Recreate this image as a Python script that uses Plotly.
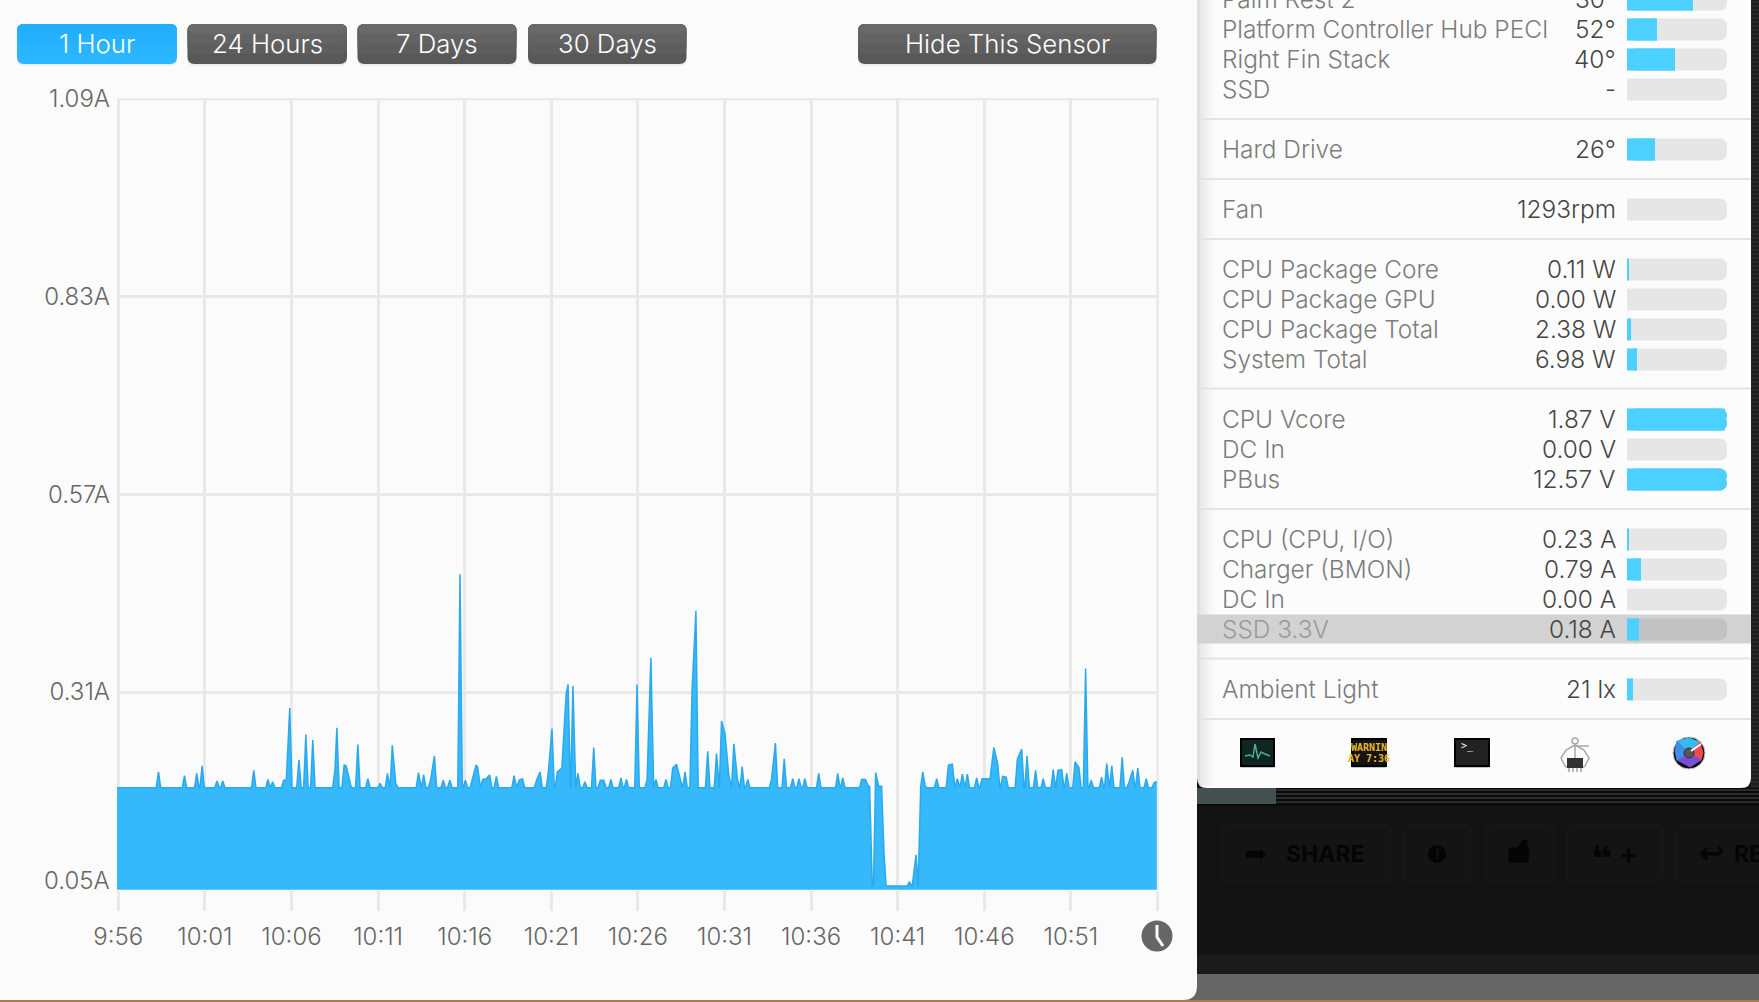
import plotly.graph_objects as go

W, H = 1759, 1002
FONT = "Inter"

# Current readings, in amps. Minutes count from 9:56.
BASE_AMPS = 0.184
pre_minutes = [2.32, 3.82, 4.53, 4.84, 5.70, 6.03, 7.82, 8.64, 8.91, 9.55, 9.70, 9.90, 10.43, 10.83, 11.23,
               12.51, 12.62, 13.04, 13.15, 13.33, 13.83, 14.41, 15.12, 15.54, 15.82, 16.02, 17.33, 17.63,
               18.03, 18.25, 18.76, 19.14, 19.73, 20.04, 20.44, 20.66, 20.75, 21.04, 21.24, 21.44, 21.83,
               22.85, 23.14, 23.34, 24.15, 24.35, 24.84, 25.04, 25.35, 25.61, 25.86, 25.97, 26.25, 26.54,
               26.94, 27.45, 27.83, 28.03, 28.44, 29.02, 29.34, 29.95, 30.53, 30.75, 31.04, 31.62, 32.01,
               32.23, 32.45, 32.72, 33.13, 33.35, 34.03, 34.54, 34.83, 35.03, 35.24, 35.54, 35.75, 36.02,
               36.34, 37.72, 37.94, 38.45, 38.94, 39.30, 39.64, 40.44, 41.54, 41.83, 42.92, 43.14]
pre_amps = [0.205, 0.200, 0.203, 0.213, 0.193, 0.193, 0.207, 0.195, 0.192, 0.194, 0.194, 0.289, 0.221, 0.254, 0.247,
            0.208, 0.263, 0.214, 0.213, 0.194, 0.241, 0.196, 0.190, 0.203, 0.240, 0.190, 0.204, 0.201,
            0.194, 0.226, 0.194, 0.194, 0.465, 0.194, 0.194, 0.214, 0.211, 0.195, 0.196, 0.201, 0.199,
            0.200, 0.194, 0.196, 0.194, 0.205, 0.207, 0.262, 0.205, 0.210, 0.308, 0.320, 0.318, 0.203,
            0.192, 0.237, 0.194, 0.194, 0.195, 0.197, 0.195, 0.320, 0.195, 0.355, 0.195, 0.195, 0.210,
            0.215, 0.195, 0.205, 0.314, 0.417, 0.232, 0.229, 0.272, 0.255, 0.202, 0.242, 0.195, 0.212,
            0.195, 0.196, 0.243, 0.222, 0.196, 0.196, 0.196, 0.203, 0.203, 0.197, 0.195, 0.195]

dip_minutes = [43.31, 43.38, 43.53, 43.60, 43.73, 43.90, 44.07, 44.21, 44.33, 45.55, 45.67, 45.84, 46.06, 46.18,
               46.33, 46.45, 46.59]
dip_amps = [0.186, 0.186, 0.055, 0.055, 0.204, 0.186, 0.186, 0.098, 0.055, 0.055, 0.060, 0.055, 0.096, 0.055,
            0.186, 0.205, 0.186]

post_minutes = [47.25, 47.93, 48.15, 48.44, 48.73, 49.02, 49.56, 49.87, 50.09, 50.33, 50.55, 50.77, 51.06, 51.26,
                51.91, 52.16, 52.47, 52.96, 53.40, 53.98, 54.25, 54.47, 54.76, 55.24, 55.46, 55.85, 56.17,
                56.77, 57.07, 57.36, 57.96, 58.35, 58.57, 58.86, 59.35, 59.81, 59.96]
post_amps = [0.196, 0.214, 0.215, 0.196, 0.202, 0.202, 0.197, 0.196, 0.196, 0.196, 0.237, 0.216, 0.199, 0.198,
             0.222, 0.235, 0.226, 0.207, 0.196, 0.208, 0.207, 0.208, 0.203, 0.218, 0.211, 0.341, 0.194,
             0.198, 0.216, 0.213, 0.224, 0.191, 0.207, 0.210, 0.196, 0.191, 0.192]

x_ticks = [0, 5, 10, 15, 20, 25, 30, 35, 40, 45, 50, 55, 60]
x_labels = ["9:56", "10:01", "10:06", "10:11", "10:16", "10:21", "10:26", "10:31", "10:36", "10:41", "10:46",
            "10:51", ""]
y_ticks = [0.05, 0.31, 0.57, 0.83, 1.09]
y_labels = ["", "0.31A", "0.57A", "0.83A", "1.09A"]

# Sensor popover: name, reading, row number, how full the bar is.
sensor_names = ["Palm Rest 2", "Platform Controller Hub PECI", "Right Fin Stack", "SSD", "Hard Drive", "Fan",
                "CPU Package Core", "CPU Package GPU", "CPU Package Total", "System Total", "CPU Vcore", "DC In",
                "PBus", "CPU (CPU, I/O)", "Charger (BMON)", "DC In", "SSD 3.3V", "Ambient Light"]
sensor_values = ["30°", "52°", "40°", "-", "26°", "1293rpm", "0.11 W", "0.00 W", "2.38 W", "6.98 W", "1.87 V",
                 "0.00 V", "12.57 V", "0.23 A", "0.79 A", "0.00 A", "0.18 A", "21 lx"]
sensor_rows = [0, 1, 2, 3, 5, 7, 9, 10, 11, 12, 14, 15, 16, 18, 19, 20, 21, 23]
sensor_fill = [0.66, 0.30, 0.48, 0, 0.28, 0, 0.02, 0, 0.04, 0.10, 0.98, 0, 0.94, 0.02, 0.14, 0, 0.12, 0.06]

range_buttons = ["1 Hour", "24 Hours", "7 Days", "30 Days", "Hide This Sensor"]


def fx(px):
    return px / W


def fy(py):
    return 1 - py / H


def rrect(x0, y0, x1, y1, r):
    l, rt, t, b = fx(x0), fx(x1), fy(y0), fy(y1)
    rx, ry = r / W, r / H
    return (f"M{l + rx},{t} L{rt - rx},{t} Q{rt},{t} {rt},{t - ry} L{rt},{b + ry} Q{rt},{b} {rt - rx},{b} "
            f"L{l + rx},{b} Q{l},{b} {l},{b + ry} L{l},{t - ry} Q{l},{t} {l + rx},{t} Z")


def poly(points, close=False):
    d = "M" + " L".join(f"{fx(x)},{fy(y)}" for x, y in points)
    return d + (" Z" if close else "")


shapes, notes = [], []


def box(x0, y0, x1, y1, color, r=0):
    if r:
        shapes.append(dict(type="path", path=rrect(x0, y0, x1, y1, r), fillcolor=color, line_width=0,
                           xref="paper", yref="paper", layer="below"))
    else:
        shapes.append(dict(type="rect", x0=fx(x0), x1=fx(x1), y0=fy(y0), y1=fy(y1), fillcolor=color, line_width=0,
                           xref="paper", yref="paper", layer="below"))


def stroke(points, color, width=2, fill=None, close=False):
    shapes.append(dict(type="path", path=poly(points, close), line=dict(color=color, width=width),
                       fillcolor=fill if fill else "rgba(0,0,0,0)", xref="paper", yref="paper", layer="below"))


def disc(cx, cy, r, color, border=None, bw=0):
    shapes.append(dict(type="circle", x0=fx(cx - r), x1=fx(cx + r), y0=fy(cy + r), y1=fy(cy - r), fillcolor=color,
                       line=dict(color=border if border else color, width=bw), xref="paper", yref="paper",
                       layer="below"))


def text(s, x, y, size, color, anchor="left", family=FONT, bold=False, weight=300):
    if bold:
        s = f"<b>{s}</b>"
    notes.append(dict(text=s, x=fx(x), y=fy(y), xref="paper", yref="paper", showarrow=False, xanchor=anchor,
                      yanchor="middle", align=anchor,
                      font=dict(family=family, size=size, color=color, weight=700 if bold else weight)))


# Dark desktop behind the two windows
box(0, 974, W, 1002, "#666666")
box(0, 954, W, 974, "#1a1a1a")
box(1197, 806, W, 954, "#131313")
box(1197, 788, W, 806, "#0a0a0a")
box(1197, 788, 1276, 804, "#434f50")
box(0, 1000, W, 1002, "#a87b4f")
box(1751, 0, W, 788, "#1c1c1c")
shapes.append(dict(type="path", path=" ".join(poly([(1276, y), (W, y)]) for y in range(790, 804, 4)),
                   line=dict(color="#2a2a2a", width=2), xref="paper", yref="paper", layer="below"))
shapes.append(dict(type="path", path=" ".join(poly([(1751, y), (W, y)]) for y in range(2, 788, 4)),
                   line=dict(color="#333333", width=1), xref="paper", yref="paper", layer="below"))

# Dimmed forum buttons
for x0, x1 in [(1221, 1392), (1403, 1472), (1485, 1555), (1567, 1663), (1675, 1790)]:
    shapes.append(dict(type="path", path=rrect(x0, 825, x1, 882, 8), fillcolor="#141414",
                       line=dict(color="#1b1b1b", width=1), xref="paper", yref="paper", layer="below"))
text("➦", 1255, 853, 28, "#050505", "center", "DejaVu Sans")
text("SHARE", 1284, 854, 23, "#050505", bold=True)
disc(1437, 854, 9, "#050505")
text("!", 1437, 854, 14, "#141414", "center", bold=True)
stroke([(1509, 860), (1509, 848), (1518, 848), (1523, 840), (1527, 840), (1527, 847), (1529, 850), (1528, 862),
        (1509, 862)], "#050505", 1, "#050505", True)
text("❝", 1601, 858, 36, "#050505", "center", "DejaVu Sans", True)
text("+", 1628, 854, 28, "#050505", "center", bold=True)
text("↩", 1711, 852, 30, "#050505", "center", "DejaVu Sans", True)
text("RE", 1732, 854, 23, "#050505", bold=True)

# Two windows
box(-20, -20, 1197, 1000, "#fbfbfb", 14)
box(1197, -20, 1751, 788, "#fcfcfc", 10)
for i, alpha in enumerate([0.11, 0.08, 0.06, 0.04, 0.025, 0.012]):
    box(1197 + i * 3, 0, 1200 + i * 3, 786, f"rgba(0,0,0,{alpha})")

# Frame of the plot, on the edges where plotly leaves out its grid lines
box(117, 98, 1158.5, 100.5, "#e9e9e9")
box(117.1, 98, 119.6, 890, "#e9e9e9")
box(1156.3, 98, 1158.8, 890, "#e9e9e9")

# Popover rows
box(1197, 614.5, 1751, 643.5, "#d2d2d2")
for y in [119, 179, 239, 388.5, 509, 658.5, 719]:
    box(1197, y - 1, 1751, y + 1, "#e3e3e3")
for name, value, row in zip(sensor_names, sensor_values, sensor_rows):
    row_y = 30 * row - 0.5
    text(name, 1220, row_y - 0.5, 24.4, "#9a9a9a" if name == "SSD 3.3V" else "#7d7d7d")
    text(value, 1618, row_y - 0.5, 24.4, "#454545", "right")

# Time range buttons
button_edges = [(17, 177), (187.5, 347), (357.5, 516.5), (528, 686.5), (858, 1156.5)]
for i, (label, (x0, x1)) in enumerate(zip(range_buttons, button_edges)):
    box(x0, 25, x1, 66, "#ececec", 7)
    if i == 0:
        shades = ["#2cb6ff", "#29b4fe", "#25b1fc", "#22affb"]
    else:
        shades = ["#585858", "#5e5e5e", "#636363", "#696969"]
    for shade, cut in zip(shades, [0, 10, 20, 30]):
        box(x0, 24, x1, 64 - cut, shade, 7)
    text(label, (x0 + x1) / 2, 43, 25.8, "#ffffff", "center")

# Clock beside the time axis
disc(1157, 936, 15.5, "#666666")
stroke([(1157, 925), (1157, 937), (1163, 946)], "#fbfbfb", 3)

# Dock icons
for x0, x1, fill in [(1241, 1274, "#0f2521"), (1352, 1386, "#141414"), (1455, 1489, "#222222")]:
    box(x0 - 1, 738, x1 + 1, 768, "#b8c8d0", 2)
    shapes.append(dict(type="rect", x0=fx(x0), x1=fx(x1), y0=fy(766), y1=fy(739), fillcolor=fill,
                       line=dict(color="#000000", width=2), xref="paper", yref="paper", layer="below"))
stroke([(1245, 756), (1250, 755), (1253, 757), (1255, 744), (1258, 758), (1261, 752), (1265, 754), (1270, 756)],
       "#4fae92", 1.5)
text("WARNIN", 1369, 747, 10, "#e8b92a", "center", "DejaVu Sans Mono", True)
text("AY 7:36", 1369, 758, 10, "#e8b92a", "center", "DejaVu Sans Mono", True)
text(">_", 1459, 746, 10, "#ffffff", family="DejaVu Sans Mono")
stroke([(1575, 745), (1566, 750), (1561, 758), (1565, 766), (1568, 768)], "#a8a8a8", 1.5)
stroke([(1575, 745), (1584, 750), (1589, 758), (1585, 766), (1582, 768)], "#a8a8a8", 1.5)
stroke([(1575, 745), (1575, 760)], "#a8a8a8", 1.5)
stroke([(1575, 746), (1589, 746)], "#a8a8a8", 1.5)
disc(1575, 741, 3, "#fcfcfc", "#a8a8a8", 1.5)
box(1567, 758, 1583, 768, "#333333")
stroke([(1569, 768), (1569, 772)], "#777777", 1)
stroke([(1573, 768), (1573, 772)], "#777777", 1)
stroke([(1577, 768), (1577, 772)], "#777777", 1)
stroke([(1581, 768), (1581, 772)], "#777777", 1)
disc(1689, 753, 16, "#0a0a0a", "#c8c8c8", 1)
stroke([(1689, 753), (1677, 741), (1689, 738), (1700, 742)], "#39b7ee", 1, "#39b7ee", True)
stroke([(1689, 753), (1700, 742), (1703, 753), (1701, 760)], "#ee4b4b", 1, "#ee4b4b", True)
stroke([(1689, 753), (1701, 760), (1690, 767), (1677, 760)], "#7a4fd8", 1, "#7a4fd8", True)
stroke([(1689, 753), (1677, 760), (1675, 751), (1677, 741)], "#3f8ee8", 1, "#3f8ee8", True)
disc(1689, 753, 5, "#555555", "#333333", 1)
stroke([(1691, 751), (1701, 744)], "#ffffff", 2)

text("0.05A", 112, 880, 24, "#666666", "right")


def with_baseline(minutes, amps, start):
    # Between two readings the line sits on the resting current.
    xs, ys = [start], [BASE_AMPS]
    for m, a in zip(minutes, amps):
        if m - xs[-1] > 0.26:
            xs += [xs[-1] + 0.13, m - 0.13]
            ys += [BASE_AMPS, BASE_AMPS]
        xs.append(m)
        ys.append(a)
    return xs, ys


pre_x, pre_y = with_baseline(pre_minutes, pre_amps, -0.075)
post_x, post_y = with_baseline(post_minutes, post_amps, dip_minutes[-1])
line_x = pre_x + dip_minutes + post_x[1:]
line_y = pre_y + dip_amps + post_y[1:]

fig = go.Figure()
fig.add_trace(go.Scatter(x=line_x, y=line_y, mode="lines", line=dict(color="#2aa9ee", width=1.5),
                         fill="tozeroy", fillcolor="#36b9fa", hoverinfo="skip", xaxis="x", yaxis="y"))

# Sensor bars: a grey track, then the blue level with a square right edge laid over a rounded one.
track_colors = ["#c2c2c2" if n == "SSD 3.3V" else "#e6e6e6" for n in sensor_names]
square_from = [min(f, 0.07) for f in sensor_fill]
fig.add_trace(go.Bar(y=sensor_rows, x=[1] * len(sensor_rows), orientation="h", width=0.733,
                     marker=dict(color=track_colors, cornerradius=7, line_width=0),
                     hoverinfo="skip", xaxis="x2", yaxis="y2"))
fig.add_trace(go.Bar(y=sensor_rows, x=sensor_fill, orientation="h", width=0.733,
                     marker=dict(color="#4bd0ff", cornerradius=7, line_width=0),
                     hoverinfo="skip", xaxis="x2", yaxis="y2"))
fig.add_trace(go.Bar(y=sensor_rows, x=[f - s for f, s in zip(sensor_fill, square_from)], base=square_from,
                     orientation="h", width=0.733, marker=dict(color="#4bd0ff", line_width=0),
                     hoverinfo="skip", xaxis="x2", yaxis="y2"))

fig.update_layout(
    width=W, height=H, margin=dict(l=0, r=0, t=0, b=0), autosize=False, showlegend=False, barmode="overlay",
    paper_bgcolor="#131313", plot_bgcolor="rgba(0,0,0,0)", shapes=shapes, annotations=notes,
    font=dict(family=FONT, color="#666666", size=24, weight=300),
    xaxis=dict(domain=[fx(117), fx(1157.5)], range=[-0.075, 60], tickmode="array", tickvals=x_ticks, ticktext=x_labels,
               showgrid=True, gridcolor="#e9e9e9", gridwidth=2.5, zeroline=False, ticks="outside", ticklen=20,
               tickcolor="#e9e9e9", tickwidth=2.5, ticklabelstandoff=5, anchor="y", automargin=False),
    yaxis=dict(domain=[fy(889.7), fy(99)], range=[0.05, 1.09], tickmode="array", tickvals=y_ticks, ticktext=y_labels,
               showgrid=True, gridcolor="#e9e9e9", gridwidth=2.5, zeroline=False, ticks="", ticklabelstandoff=6,
               anchor="x", automargin=False),
    xaxis2=dict(domain=[fx(1627), fx(1727)], range=[0, 1], visible=False, anchor="y2", automargin=False),
    yaxis2=dict(domain=[fy(720), 1], range=[24.02, 0.0167], visible=False, anchor="x2", automargin=False),
)

fig.write_html("out.html", config={"displayModeBar": False}, post_script="document.body.style.margin='0';")
